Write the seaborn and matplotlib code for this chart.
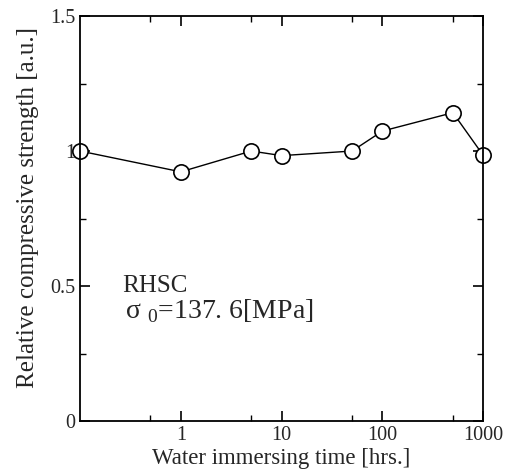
import matplotlib
matplotlib.use("Agg")
import matplotlib.pyplot as plt
import seaborn as sns
import pandas as pd
from matplotlib.ticker import FixedLocator, FixedFormatter, NullFormatter

time_hrs = [0.1, 1, 5, 10, 50, 100, 500, 1000]
rel_strength = [1.00, 0.923, 1.00, 0.983, 1.00, 1.074, 1.142, 0.984]
x_tick_vals = [1, 10, 100, 1000]
x_tick_labels = ["1", "10", "100", "1000"]
y_tick_vals = [0, 0.5, 1, 1.5]
y_tick_labels = ["0", "0.5", "1", "1.5"]

sns.set_style("ticks")
plt.rcParams['font.family'] = ['Liberation Serif', 'DejaVu Serif']
plt.rcParams['mathtext.fontset'] = 'custom'
plt.rcParams['mathtext.rm'] = 'Liberation Serif'

df = pd.DataFrame({"t": time_hrs, "s": rel_strength})

fig = plt.figure(figsize=(5.13, 4.71), dpi=100)
ax = fig.add_axes([0.156, 0.106, 0.786, 0.860])
sns.lineplot(data=df, x="t", y="s", ax=ax, color="black", linewidth=1.0,
             marker="o", markersize=11, markerfacecolor="white",
             markeredgecolor="black", markeredgewidth=1.2, clip_on=False)
ax.set_xscale("log")
ax.set_xlim(0.1, 1000)
ax.set_ylim(0, 1.5)
ax.xaxis.set_major_locator(FixedLocator(x_tick_vals))
ax.xaxis.set_major_formatter(FixedFormatter(x_tick_labels))
ax.xaxis.set_minor_locator(FixedLocator([0.5, 5, 50, 500]))
ax.xaxis.set_minor_formatter(NullFormatter())
ax.yaxis.set_major_locator(FixedLocator(y_tick_vals))
ax.yaxis.set_major_formatter(FixedFormatter(y_tick_labels))
ax.yaxis.set_minor_locator(FixedLocator([0.25, 0.75, 1.25]))
ax.tick_params(which="both", direction="in", top=True, right=True, labelsize=14.5, color="black")
ax.tick_params(which="major", length=7, width=1.2)
ax.tick_params(which="minor", length=4, width=1.0)
for sp in ax.spines.values():
    sp.set_linewidth(1.3)
    sp.set_color("black")
ax.set_xlabel("Water immersing time [hrs.]", fontsize=16.5, labelpad=2)
ax.set_ylabel("Relative compressive strength [a.u.]", fontsize=18, labelpad=4)
ax.yaxis.set_label_coords(-0.102, 0.528)
ax.text(0.261, 0.478, "RHSC", fontsize=18)
ax.text(0.279, 0.381, r"σ $_{0}$=137. 6[MPa]", fontsize=20)
fig.savefig("out.png", dpi=100)
